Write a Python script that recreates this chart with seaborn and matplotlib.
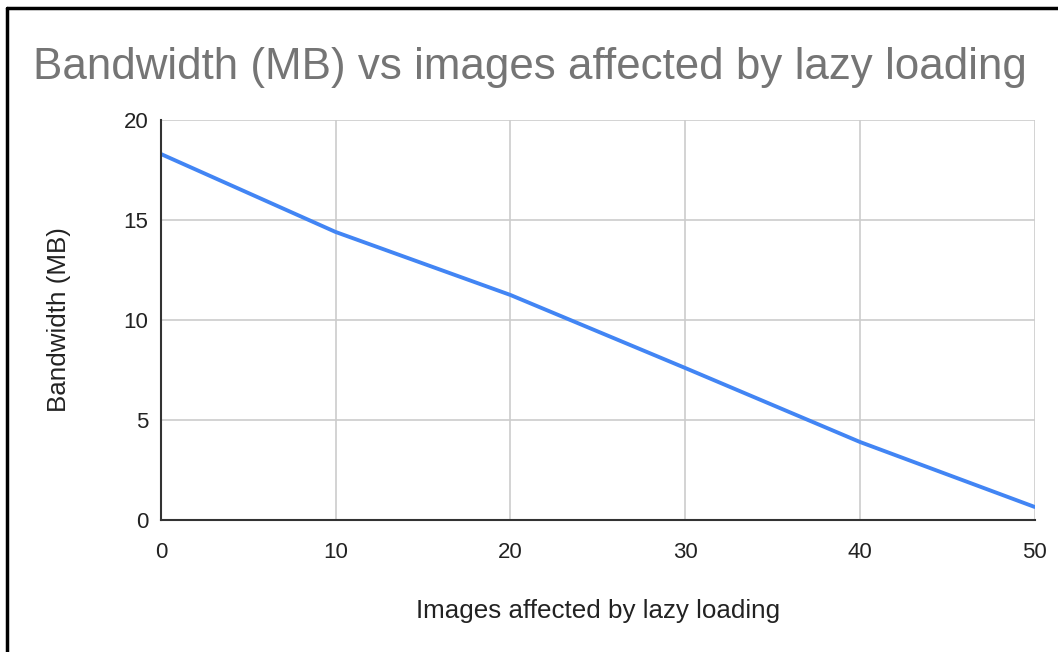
import matplotlib
matplotlib.use("Agg")
import matplotlib.pyplot as plt
import matplotlib.lines as mlines
import seaborn as sns
import pandas as pd

# data
images_affected = [0, 10, 20, 30, 40, 50]
bandwidth_mb = [18.3, 14.4, 11.25, 7.6, 3.9, 0.65]
x_ticks = [0, 10, 20, 30, 40, 50]
y_ticks = [0, 5, 10, 15, 20]

df = pd.DataFrame({"Images": images_affected, "Bandwidth": bandwidth_mb})

sns.set_theme(style="whitegrid")
plt.rcParams["font.family"] = ["Liberation Sans", "DejaVu Sans"]

fig = plt.figure(figsize=(10.58, 6.52), dpi=100)
ax = fig.add_axes([0.152, 0.2025, 0.826, 0.6135])

sns.lineplot(data=df, x="Images", y="Bandwidth", ax=ax, color="#4285F4", linewidth=2.8)

ax.set_xlim(0, 50)
ax.set_ylim(0, 20)
ax.set_xticks(x_ticks)
ax.set_yticks(y_ticks)
ax.grid(True, color="#cccccc", linewidth=1.2)
ax.tick_params(axis="both", length=0, labelsize=16, colors="#222222")
ax.tick_params(axis="y", pad=9)
ax.tick_params(axis="x", pad=16)

for side in ["top", "right"]:
    ax.spines[side].set_visible(False)
for side in ["left", "bottom"]:
    ax.spines[side].set_color("#333333")
    ax.spines[side].set_linewidth(1.5)

ax.set_xlabel("Images affected by lazy loading", fontsize=18.7, color="#222222", labelpad=26)
ax.set_ylabel("Bandwidth (MB)", fontsize=18.7, color="#222222", labelpad=38)

fig.text(0.031, 0.897, "Bandwidth (MB) vs images affected by lazy loading",
         fontsize=31.6, color="#757575", ha="left", va="center")

# screenshot frame (top and left edge only)
fig.add_artist(mlines.Line2D([0.0065, 1.0], [0.987, 0.987], color="black", linewidth=2.5,
                             transform=fig.transFigure))
fig.add_artist(mlines.Line2D([0.0065, 0.0065], [0.0, 0.987], color="black", linewidth=2.5,
                             transform=fig.transFigure))

fig.savefig("out.png", dpi=100, facecolor="white")
